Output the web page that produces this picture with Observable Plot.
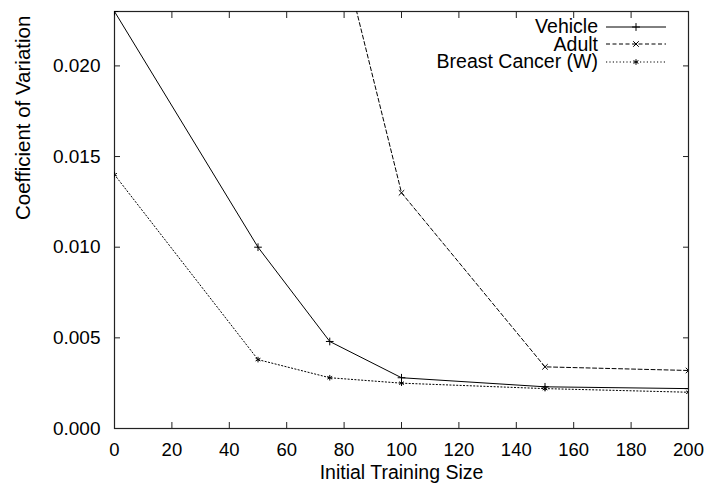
<!DOCTYPE html>
<html>
<head>
<meta charset="utf-8">
<script src="https://cdn.jsdelivr.net/npm/d3@7"></script>
<script src="https://cdn.jsdelivr.net/npm/@observablehq/plot@0.6"></script>
<style>
  html, body { margin: 0; padding: 0; background: #fff; }
  #wrap { position: relative; width: 710px; height: 493px; font-family: "Liberation Sans", Arial, sans-serif; }
  #legend { position: absolute; right: 44px; top: 18px; font-size: 19.5px; }
  #legend .row { display: flex; align-items: center; justify-content: flex-end; height: 17.5px; }
  #legend span { line-height: 17.5px; }
  #legend svg { margin-left: 8px; }
</style>
</head>
<body>
<div id="wrap"></div>
<script>
// Coefficient of variation vs. initial training size, three datasets
const sizes = [0, 50, 75, 100, 150, 200];
const vehicle = [0.0230, 0.0100, 0.0048, 0.0028, 0.0023, 0.0022];
const adultSizes = [75, 100, 150, 200];
const adult = [0.0290, 0.0130, 0.0034, 0.0032];
const breast = [0.0140, 0.0038, 0.0028, 0.0025, 0.0022, 0.0020];

const seriesNames = ["Vehicle", "Adult", "Breast Cancer (W)"];
const seriesSymbols = ["plus", "times", "asterisk"];
const seriesDash = [null, "4,2.5", "1.2,2.2"];

const xTicks = [0, 20, 40, 60, 80, 100, 120, 140, 160, 180, 200];
const yTicks = [0, 0.005, 0.010, 0.015, 0.020];

const rows = [
  ...sizes.map((x, i) => ({x, y: vehicle[i], s: 0})),
  ...adultSizes.map((x, i) => ({x, y: adult[i], s: 1})),
  ...sizes.map((x, i) => ({x, y: breast[i], s: 2}))
];

const marks = [];
seriesNames.forEach((name, s) => {
  const d = rows.filter(r => r.s === s);
  marks.push(Plot.line(d, {x: "x", y: "y", stroke: "#000", strokeWidth: 1, strokeDasharray: seriesDash[s], clip: true}));
  marks.push(Plot.dot(d, {x: "x", y: "y", symbol: () => seriesSymbols[s], r: 2.6, stroke: "#000", strokeWidth: 1, fill: "none", clip: true}));
});

const chart = Plot.plot({
  width: 710,
  height: 493,
  marginLeft: 114,
  marginRight: 22,
  marginTop: 11,
  marginBottom: 65,
  style: {fontFamily: "Liberation Sans, Arial, sans-serif", fontSize: "18.5px", color: "#000", background: "#fff"},
  x: {domain: [0, 200]},
  y: {domain: [0, 0.023]},
  symbol: {type: "identity"},
  marks: [
    Plot.frame({stroke: "#222", strokeWidth: 1.2}),
    Plot.axisX(xTicks, {anchor: "bottom", tickSize: -6, tickPadding: 20, fontSize: 18.5, label: null, stroke: "#222"}),
    Plot.axisX(xTicks, {anchor: "top", tickSize: -6, tickFormat: () => "", label: null, stroke: "#222"}),
    Plot.axisY(yTicks, {anchor: "left", tickSize: -6, tickPadding: 20, fontSize: 19, tickFormat: d3.format(".3f"), label: null, stroke: "#222"}),
    Plot.axisY(yTicks, {anchor: "right", tickSize: -6, tickFormat: () => "", label: null, stroke: "#222"}),
    // axis titles placed relative to the frame
    Plot.text(["Initial Training Size"], {frameAnchor: "bottom", dy: 50, fontSize: 19.5, text: d => d, fill: "#000"}),
    Plot.text(["Coefficient of Variation"], {frameAnchor: "left", dx: -91, rotate: -90, fontSize: 20.5, text: d => d, fill: "#000"}),
    ...marks
  ]
});

const wrap = document.getElementById("wrap");
wrap.appendChild(chart);

// Legend: name with line/marker sample
const legend = document.createElement("div");
legend.id = "legend";
seriesNames.forEach((name, s) => {
  const row = document.createElement("div");
  row.className = "row";
  const label = document.createElement("span");
  label.textContent = name;
  row.appendChild(label);
  const ns = "http://www.w3.org/2000/svg";
  const svg = document.createElementNS(ns, "svg");
  svg.setAttribute("width", 60);
  svg.setAttribute("height", 12);
  const line = document.createElementNS(ns, "line");
  line.setAttribute("x1", 0); line.setAttribute("x2", 60);
  line.setAttribute("y1", 6); line.setAttribute("y2", 6);
  line.setAttribute("stroke", "#000");
  if (seriesDash[s]) line.setAttribute("stroke-dasharray", seriesDash[s]);
  svg.appendChild(line);
  const sym = document.createElementNS(ns, "path");
  sym.setAttribute("d", d3.symbol(d3["symbol" + seriesSymbols[s][0].toUpperCase() + seriesSymbols[s].slice(1)], 22)());
  sym.setAttribute("transform", "translate(30,6)");
  sym.setAttribute("stroke", "#000");
  sym.setAttribute("fill", "none");
  svg.appendChild(sym);
  row.appendChild(svg);
  legend.appendChild(row);
});
wrap.appendChild(legend);
</script>
</body>
</html>
